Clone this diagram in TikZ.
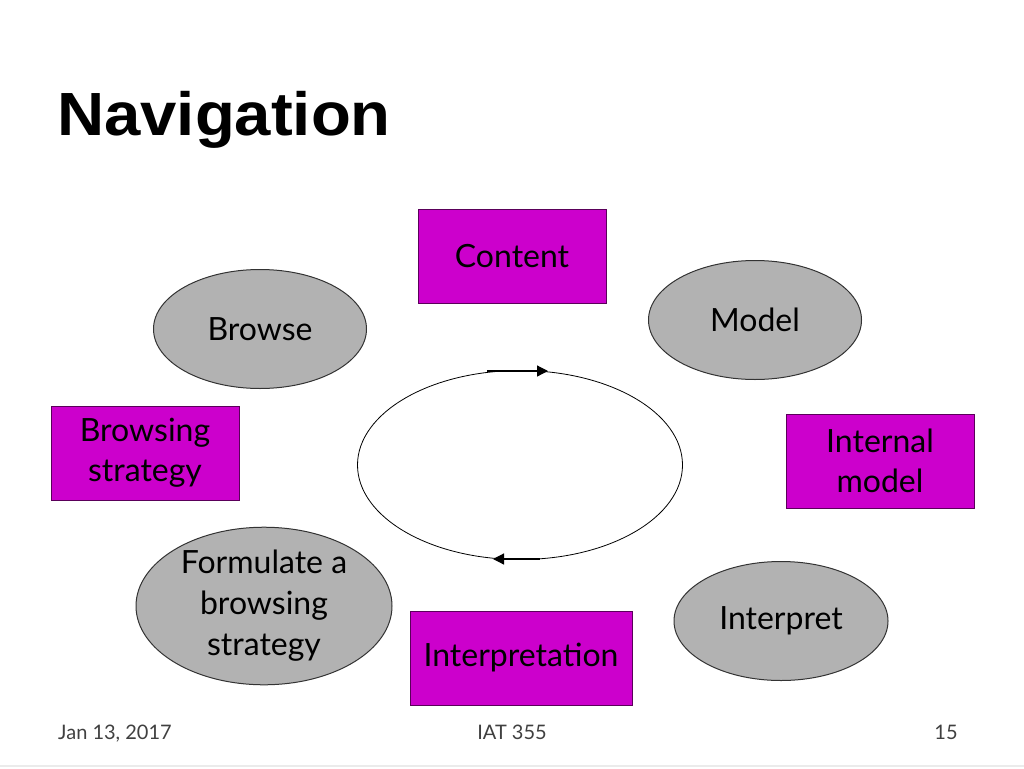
\documentclass[tikz,border=0pt]{standalone}
\usepackage{fontspec}
\setmainfont{Lato}
\newfontfamily\titlefont[FakeStretch=1.07]{Liberation Sans}
\usepackage{tikz}
\usetikzlibrary{shapes.geometric,arrows.meta}
\definecolor{boxmag}{RGB}{204,0,204}
\definecolor{boxline}{RGB}{90,0,90}
\definecolor{ovalgray}{RGB}{178,178,178}
\tikzset{
  topic/.style={
    draw=boxline, fill=boxmag, line width=1pt,
    minimum width=188pt, minimum height=94pt,
    align=center, font=\fontsize{32}{40}\selectfont
  },
  stage/.style={
    ellipse, draw=black!80, fill=ovalgray, line width=1pt, inner sep=0pt,
    minimum width=213pt, minimum height=119pt,
    align=center, font=\fontsize{32}{41}\selectfont
  },
  footer/.style={
    anchor=base, text=black!75, font=\fontsize{20}{24}\selectfont
  },
  flow/.style={
    line width=1.2pt, -{Triangle[length=11pt,width=11pt]}
  }
}

\begin{document}
\begin{tikzpicture}[x=1pt,y=-1pt]
  \useasboundingbox (0,0) rectangle (1024,768);

  % Title
  \node[anchor=base west, inner sep=0pt, font=\titlefont\bfseries\fontsize{61}{70}\selectfont]
    (title) at (57,135) {Navigation};

  % Boxes
  \node[topic] (content) at (512,256) {Content};
  \node[topic] (bstrat) at (145,453) {Browsing\\strategy};
  \node[topic] (imodel) at (880,461) {Internal\\model};
  \node[topic, minimum width=222pt] (interp) at (521,658) {Interpretation};

  % Ovals
  \node[stage] (model) at (755,320) {Model};
  \node[stage] (browse) at (260,329) {Browse};
  \node[stage, minimum width=256pt, minimum height=146pt] (formulate) at (264,606)
    {Formulate a\\browsing\\strategy};
  \node[stage, minimum width=214pt] (interpret) at (781,621) {Interpret};

  % Cycle
  \node[ellipse, draw, line width=0.8pt, minimum width=325pt, minimum height=189pt]
    (cycle) at (520,465) {};
  \coordinate (topA) at (487,371);
  \coordinate (topB) at (548,371);
  \coordinate (botA) at (540,559);
  \coordinate (botB) at (493,559);
  \draw[flow] (topA) -- (topB);
  \draw[flow] (botA) -- (botB);

  % Footer
  \node[footer] (date) at (115,739) {Jan 13, 2017};
  \node[footer] (course) at (512,739) {IAT 355};
  \node[footer] (page) at (946,739) {15};
  \coordinate (lineL) at (0,766);
  \coordinate (lineR) at (1024,766);
  \draw[black!8, line width=1.5pt] (lineL) -- (lineR);
\end{tikzpicture}
\end{document}
